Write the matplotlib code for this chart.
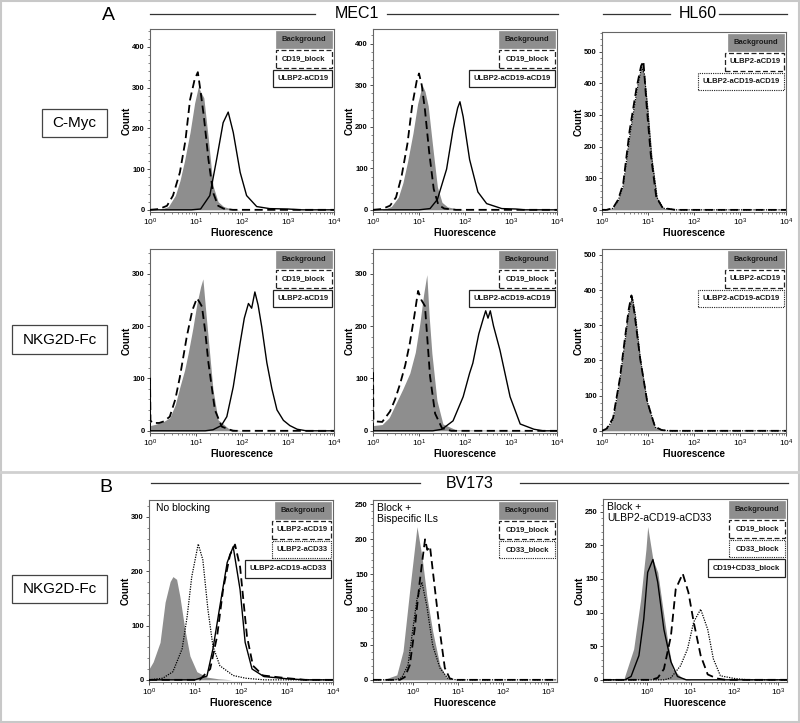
import numpy as np
import matplotlib
matplotlib.use("Agg")
import matplotlib.pyplot as plt
from matplotlib.patches import Rectangle
from matplotlib.lines import Line2D
from matplotlib.ticker import AutoMinorLocator, LogLocator, NullFormatter, FixedLocator

plt.rcParams["font.family"] = ["Liberation Sans", "DejaVu Sans"]
plt.rcParams["mathtext.fontset"] = "custom"
plt.rcParams["mathtext.rm"] = "Liberation Sans:bold"
plt.rcParams["mathtext.bf"] = "Liberation Sans:bold"
plt.rcParams["mathtext.default"] = "bf"

# ---------------------------------------------------------
# Histogram traces: x = log10(fluorescence), y = count
# ---------------------------------------------------------
# A, C-Myc, MEC1, ULBP2-aCD19
p1_bg_x = [0.2, 0.4, 0.55, 0.65, 0.75, 0.87, 0.97, 1.05, 1.1, 1.17, 1.27, 1.37, 1.48, 1.6, 1.75, 1.95]
p1_bg_y = [0, 8, 35, 71, 120, 190, 262, 302, 290, 275, 173, 59, 20, 8, 3, 0]
p1_dash_x = [0.2, 0.37, 0.5, 0.65, 0.77, 0.87, 0.97, 1.04, 1.1, 1.17, 1.27, 1.37, 1.48, 1.6, 1.8]
p1_dash_y = [2, 10, 35, 92, 170, 270, 320, 338, 290, 230, 124, 43, 10, 3, 0]
p1_solid_x = [0.9, 1.1, 1.3, 1.45, 1.59, 1.7, 1.81, 1.96, 2.1, 2.32, 2.6, 3.0, 3.3]
p1_solid_y = [0, 2, 35, 125, 214, 240, 190, 92, 35, 8, 3, 2, 0]

# A, C-Myc, MEC1, ULBP2-aCD19-aCD19
p2_bg_x = [0.2, 0.4, 0.55, 0.65, 0.75, 0.87, 0.97, 1.07, 1.13, 1.2, 1.3, 1.4, 1.5, 1.62, 1.8, 2.0]
p2_bg_y = [0, 8, 30, 65, 115, 185, 255, 300, 285, 250, 150, 55, 18, 7, 3, 0]
p2_dash_x = [0.2, 0.37, 0.5, 0.62, 0.75, 0.85, 0.95, 1.0, 1.06, 1.13, 1.22, 1.32, 1.42, 1.55, 1.8]
p2_dash_y = [2, 10, 30, 80, 160, 250, 310, 328, 300, 240, 140, 50, 12, 3, 0]
p2_solid_x = [1.0, 1.24, 1.4, 1.6, 1.74, 1.84, 1.89, 1.96, 2.1, 2.28, 2.47, 2.8, 3.1, 3.3]
p2_solid_y = [0, 3, 25, 98, 193, 245, 260, 224, 121, 43, 15, 3, 2, 0]

# A, C-Myc, HL60
p3_bg_x = [0.1, 0.24, 0.35, 0.46, 0.61, 0.76, 0.87, 0.93, 1.0, 1.09, 1.2, 1.33, 1.6]
p3_bg_y = [0, 5, 30, 78, 247, 381, 465, 412, 319, 162, 37, 5, 0]
p3_dash_x = [0.1, 0.24, 0.35, 0.46, 0.6, 0.75, 0.85, 0.9, 0.97, 1.06, 1.18, 1.32, 1.6]
p3_dash_y = [0, 6, 32, 82, 250, 385, 455, 470, 330, 175, 40, 6, 0]
p3_dot_x = [0.1, 0.24, 0.35, 0.46, 0.61, 0.76, 0.86, 0.92, 0.99, 1.08, 1.2, 1.33, 1.6]
p3_dot_y = [0, 5, 28, 76, 240, 378, 450, 430, 325, 165, 38, 5, 0]

# A, NKG2D-Fc, MEC1, ULBP2-aCD19
p4_bg_x = [0.0, 0.1, 0.3, 0.43, 0.55, 0.65, 0.75, 0.83, 0.93, 1.02, 1.1, 1.15, 1.2, 1.27, 1.37, 1.48, 1.7, 2.0]
p4_bg_y = [10, 12, 18, 25, 50, 84, 115, 148, 195, 243, 275, 290, 240, 173, 78, 21, 5, 0]
p4_dash_x = [0.0, 0.01, 0.05, 0.2, 0.3, 0.43, 0.55, 0.65, 0.8, 0.92, 1.02, 1.08, 1.13, 1.2, 1.27, 1.41, 1.56, 1.8]
p4_dash_y = [100, 20, 15, 15, 18, 27, 60, 103, 180, 230, 253, 245, 237, 190, 130, 40, 8, 0]
p4_solid_x = [1.2, 1.37, 1.55, 1.67, 1.81, 1.96, 2.05, 2.14, 2.21, 2.28, 2.35, 2.43, 2.54, 2.65, 2.76, 2.9, 3.04, 3.2, 3.4]
p4_solid_y = [0, 2, 10, 27, 84, 168, 215, 243, 234, 265, 240, 198, 130, 80, 40, 20, 10, 3, 0]

# A, NKG2D-Fc, MEC1, ULBP2-aCD19-aCD19
p5_bg_x = [0.0, 0.2, 0.35, 0.52, 0.65, 0.8, 0.92, 1.02, 1.1, 1.17, 1.22, 1.28, 1.39, 1.52, 1.8]
p5_bg_y = [10, 12, 25, 56, 80, 110, 150, 206, 260, 298, 220, 148, 58, 13, 2]
p5_dash_x = [0.0, 0.01, 0.05, 0.2, 0.37, 0.48, 0.59, 0.7, 0.8, 0.9, 0.98, 1.05, 1.13, 1.24, 1.35, 1.5, 1.7]
p5_dash_y = [115, 20, 18, 17, 37, 60, 90, 125, 167, 220, 267, 250, 238, 104, 33, 5, 0]
p5_solid_x = [1.3, 1.5, 1.74, 1.96, 2.1, 2.17, 2.3, 2.4, 2.45, 2.5, 2.55, 2.62, 2.76, 2.98, 3.2, 3.5, 3.7]
p5_solid_y = [0, 3, 19, 65, 110, 129, 185, 215, 229, 215, 229, 200, 154, 65, 13, 3, 0]

# A, NKG2D-Fc, HL60
p6_bg_x = [0.0, 0.1, 0.24, 0.39, 0.5, 0.58, 0.65, 0.72, 0.83, 0.98, 1.15, 1.3, 1.5]
p6_bg_y = [0, 5, 34, 147, 260, 340, 387, 330, 203, 82, 10, 2, 0]
p6_dash_x = [0.0, 0.1, 0.24, 0.39, 0.5, 0.58, 0.64, 0.7, 0.83, 0.98, 1.15, 1.3, 1.5]
p6_dash_y = [0, 6, 36, 150, 265, 345, 385, 340, 205, 85, 12, 2, 0]
p6_dot_x = [0.0, 0.1, 0.24, 0.39, 0.5, 0.58, 0.66, 0.73, 0.84, 0.99, 1.16, 1.3, 1.5]
p6_dot_y = [0, 5, 32, 145, 255, 335, 380, 325, 200, 80, 10, 2, 0]

# B, NKG2D-Fc, BV173, no blocking
p7_bg_x = [0.0, 0.09, 0.24, 0.35, 0.46, 0.52, 0.6, 0.67, 0.78, 0.89, 1.04, 1.26, 1.5, 1.8]
p7_bg_y = [20, 33, 69, 143, 181, 190, 185, 154, 93, 44, 15, 5, 2, 0]
p7_dot_x = [0.3, 0.52, 0.72, 0.83, 0.93, 1.07, 1.17, 1.28, 1.39, 1.54, 1.83, 2.1, 2.5]
p7_dot_y = [3, 15, 57, 117, 190, 250, 221, 130, 62, 26, 8, 3, 0]
p7_dash_x = [1.1, 1.33, 1.48, 1.61, 1.76, 1.87, 1.98, 2.13, 2.26, 2.48, 3.0, 3.4]
p7_dash_y = [0, 20, 80, 166, 230, 249, 208, 80, 26, 8, 3, 0]
p7_solid_x = [1.0, 1.26, 1.39, 1.54, 1.7, 1.83, 1.98, 2.09, 2.24, 2.5, 3.0, 3.4]
p7_solid_y = [0, 7, 57, 135, 216, 245, 166, 69, 20, 6, 2, 0]

# B, Block + Bispecific ILs
p8_bg_x = [-0.68, -0.37, -0.23, -0.08, 0.03, 0.08, 0.19, 0.3, 0.43, 0.59, 0.74, 0.9]
p8_bg_y = [0, 7, 41, 129, 190, 218, 176, 119, 69, 21, 3, 0]
p8_dash_x = [-0.3, -0.19, -0.08, 0.03, 0.14, 0.2, 0.26, 0.31, 0.37, 0.48, 0.59, 0.7, 0.81, 0.95]
p8_dash_y = [0, 4, 21, 73, 139, 170, 200, 185, 190, 129, 69, 17, 2, 0]
p8_dot_x = [-0.4, -0.26, -0.12, -0.01, 0.08, 0.19, 0.3, 0.43, 0.59, 0.77, 0.95]
p8_dot_y = [0, 3, 21, 73, 115, 139, 105, 49, 17, 2, 0]

# B, Block + ULBP2-aCD19-aCD33
p9_bg_x = [-0.7, -0.52, -0.3, -0.14, -0.02, 0.02, 0.14, 0.25, 0.36, 0.48, 0.59, 0.8, 1.0]
p9_bg_y = [0, 2, 46, 120, 194, 228, 179, 160, 109, 56, 16, 3, 0]
p9_solid_x = [-0.5, -0.36, -0.18, -0.07, 0.02, 0.14, 0.25, 0.39, 0.55, 0.7, 0.9]
p9_solid_y = [0, 5, 36, 90, 160, 179, 145, 75, 27, 5, 0]
p9_dash_x = [0.1, 0.25, 0.39, 0.55, 0.66, 0.82, 0.95, 1.07, 1.23, 1.39, 1.6, 1.8]
p9_dash_y = [0, 3, 16, 65, 135, 158, 130, 86, 36, 8, 2, 0]
p9_dot_x = [0.4, 0.55, 0.77, 0.93, 1.07, 1.23, 1.39, 1.52, 1.68, 2.0, 2.3]
p9_dot_y = [0, 3, 21, 46, 86, 105, 75, 31, 6, 2, 0]

row_labels = ["C-Myc", "NKG2D-Fc", "NKG2D-Fc"]

# ---------------------------------------------------------
# Drawing helpers
# ---------------------------------------------------------
W, H = 800, 723
GRAY = "#8e8e8e"
STYLES = {
    "dash": dict(color="black", lw=1.3, ls=(0, (4.5, 2.5))),
    "dot": dict(color="black", lw=0.9, ls=(0, (1, 1))),
    "solid": dict(color="black", lw=1.0, ls="-"),
}
BOX_STYLES = {
    "dash": dict(ec="#222222", lw=0.9, ls=(0, (4, 2))),
    "dot": dict(ec="#222222", lw=0.8, ls=(0, (1, 1))),
    "solid": dict(ec="#222222", lw=0.9, ls="-"),
    "fill": dict(ec=GRAY, lw=0.5, ls="-"),
}

fig = plt.figure(figsize=(W / 100, H / 100), dpi=100)


def fx(px):
    return px / W


def fy(py):
    return 1 - py / H


def make_panel(left, top, bottom, xlim, ymax, ystep, nminor, xticks, width=184):
    ax = fig.add_axes([fx(left), fy(bottom), width / W, (bottom - top) / H])
    ax.set_xscale("log")
    ax.set_xlim(10 ** xlim[0], 10 ** xlim[1])
    ax.set_ylim(-0.012 * ymax, ymax)
    ax.xaxis.set_major_locator(FixedLocator([10.0 ** k for k in xticks]))
    ax.xaxis.set_minor_locator(LogLocator(base=10, subs=np.arange(2, 10) * 1.0, numticks=20))
    ax.xaxis.set_minor_formatter(NullFormatter())
    ax.set_yticks(np.arange(0, ymax, ystep))
    ax.yaxis.set_minor_locator(AutoMinorLocator(nminor))
    ax.tick_params(axis="both", which="major", direction="out", length=2.2, width=0.6,
                   labelsize=5.5, pad=1.5, color="#333333")
    ax.tick_params(axis="x", which="major", labelsize=6)
    ax.tick_params(axis="both", which="minor", direction="out", length=1.2, width=0.5, color="#555555")
    for lab in ax.get_yticklabels():
        lab.set_fontweight("bold")
    for sp in ax.spines.values():
        sp.set_color("#666666")
        sp.set_linewidth(0.8)
    ax.set_xlabel("Fluorescence", fontsize=7, fontweight="bold", labelpad=0)
    ax.set_ylabel("Count", fontsize=7, fontweight="bold")
    ax.yaxis.set_label_coords(-0.1, 0.5)
    return ax


def draw_curve(ax, xs, ys, kind):
    lo, hi = np.log10(ax.get_xlim())
    x = np.concatenate([[lo], xs, [hi]])
    y = np.concatenate([[0], ys, [0]])
    if kind == "fill":
        ax.fill_between(10 ** x, y, color=GRAY, lw=0, zorder=1)
    else:
        ax.plot(10 ** x, y, zorder=3, **STYLES[kind])


def draw_legend(ax, entries, step=19.5, h=17.5):
    bb = ax.get_position()
    pw, ph = bb.width * W, bb.height * H
    for i, (label, kind) in enumerate(entries):
        w = max(56, 4.6 * len(label) + 8)
        x0 = 1 - (2 + w) / pw
        y0 = 1 - (1.5 + i * step + h) / ph
        ax.add_patch(Rectangle((x0, y0), w / pw, h / ph, transform=ax.transAxes,
                               fc=GRAY if kind == "fill" else "white", zorder=5,
                               clip_on=False, **BOX_STYLES[kind]))
        ax.text(x0 + w / pw / 2, y0 + h / ph / 2, label, transform=ax.transAxes,
                ha="center", va="center", fontsize=5.5, fontweight="bold",
                color="#1a1a1a", zorder=6)


# ---------------------------------------------------------
# Panels
# ---------------------------------------------------------
full = (0, 4)
ax1 = make_panel(150, 29, 212, full, 444, 100, 5, [0, 1, 2, 3, 4])
draw_curve(ax1, p1_bg_x, p1_bg_y, "fill")
draw_curve(ax1, p1_dash_x, p1_dash_y, "dash")
draw_curve(ax1, p1_solid_x, p1_solid_y, "solid")
draw_legend(ax1, [("Background", "fill"), ("CD19_block", "dash"), ("ULBP2-aCD19", "solid")])

ax2 = make_panel(373, 29, 212, full, 435, 100, 5, [0, 1, 2, 3, 4])
draw_curve(ax2, p2_bg_x, p2_bg_y, "fill")
draw_curve(ax2, p2_dash_x, p2_dash_y, "dash")
draw_curve(ax2, p2_solid_x, p2_solid_y, "solid")
draw_legend(ax2, [("Background", "fill"), ("CD19_block", "dash"), ("ULBP2-aCD19-aCD19", "solid")])

ax3 = make_panel(602, 32, 212, full, 562, 100, 5, [0, 1, 2, 3, 4])
draw_curve(ax3, p3_bg_x, p3_bg_y, "fill")
draw_curve(ax3, p3_dash_x, p3_dash_y, "dash")
draw_curve(ax3, p3_dot_x, p3_dot_y, "dot")
draw_legend(ax3, [("Background", "fill"), ("ULBP2-aCD19", "dash"), ("ULBP2-aCD19-aCD19", "dot")])

ax4 = make_panel(150, 249, 433, full, 347, 100, 5, [0, 1, 2, 3, 4])
draw_curve(ax4, p4_bg_x, p4_bg_y, "fill")
draw_curve(ax4, p4_dash_x, p4_dash_y, "dash")
draw_curve(ax4, p4_solid_x, p4_solid_y, "solid")
draw_legend(ax4, [("Background", "fill"), ("CD19_block", "dash"), ("ULBP2-aCD19", "solid")])

ax5 = make_panel(373, 249, 433, full, 347, 100, 5, [0, 1, 2, 3, 4])
draw_curve(ax5, p5_bg_x, p5_bg_y, "fill")
draw_curve(ax5, p5_dash_x, p5_dash_y, "dash")
draw_curve(ax5, p5_solid_x, p5_solid_y, "solid")
draw_legend(ax5, [("Background", "fill"), ("CD19_block", "dash"), ("ULBP2-aCD19-aCD19", "solid")])

ax6 = make_panel(602, 249, 433, full, 517, 100, 5, [0, 1, 2, 3, 4])
draw_curve(ax6, p6_bg_x, p6_bg_y, "fill")
draw_curve(ax6, p6_dash_x, p6_dash_y, "dash")
draw_curve(ax6, p6_dot_x, p6_dot_y, "dot")
draw_legend(ax6, [("Background", "fill"), ("ULBP2-aCD19", "dash"), ("ULBP2-aCD19-aCD19", "dot")])

ax7 = make_panel(149, 500, 682, full, 331, 100, 5, [0, 1, 2, 3, 4])
draw_curve(ax7, p7_bg_x, p7_bg_y, "fill")
draw_curve(ax7, p7_dot_x, p7_dot_y, "dot")
draw_curve(ax7, p7_dash_x, p7_dash_y, "dash")
draw_curve(ax7, p7_solid_x, p7_solid_y, "solid")
draw_legend(ax7, [("Background", "fill"), ("ULBP2-aCD19", "dash"), ("ULBP2-aCD33", "dot"),
                  ("ULBP2-aCD19-aCD33", "solid")])

ax8 = make_panel(373, 500, 682, (-0.9, 3.2), 256, 50, 5, [0, 1, 2, 3])
draw_curve(ax8, p8_bg_x, p8_bg_y, "fill")
draw_curve(ax8, p8_dot_x, p8_dot_y, "dot")
draw_curve(ax8, p8_dash_x, p8_dash_y, "dash")
draw_legend(ax8, [("Background", "fill"), ("CD19_block", "dash"), ("CD33_block", "dot")])

ax9 = make_panel(603, 499, 682, (-1.0, 3.2), 269, 50, 5, [0, 1, 2, 3])
draw_curve(ax9, p9_bg_x, p9_bg_y, "fill")
draw_curve(ax9, p9_solid_x, p9_solid_y, "solid")
draw_curve(ax9, p9_dash_x, p9_dash_y, "dash")
draw_curve(ax9, p9_dot_x, p9_dot_y, "dot")
draw_legend(ax9, [("Background", "fill"), ("CD19_block", "dash"), ("CD33_block", "dot"),
                  ("CD19+CD33_block", "solid")])

ax7.text(0.038, 0.985, "No blocking", transform=ax7.transAxes, ha="left", va="top", fontsize=7.5)
ax8.text(0.022, 0.985, "Block +\nBispecific ILs", transform=ax8.transAxes, ha="left", va="top",
         fontsize=7.5, linespacing=1.2)
ax9.text(0.022, 0.985, "Block +\nULBP2-aCD19-aCD33", transform=ax9.transAxes, ha="left", va="top",
         fontsize=7.5, linespacing=1.2)

# ---------------------------------------------------------
# Frame, headers and row labels
# ---------------------------------------------------------
fig.add_artist(Rectangle((fx(1), fy(722)), fx(798), 721 / H - 0.0, fill=False,
                         ec="#c8c8c8", lw=1.5, transform=fig.transFigure))
fig.add_artist(Line2D([0, 1], [fy(472), fy(472)], color="#d0d0d0", lw=2, transform=fig.transFigure))


def header_line(x0, x1, y):
    fig.add_artist(Line2D([fx(x0), fx(x1)], [fy(y), fy(y)], color="#333333", lw=0.9,
                          transform=fig.transFigure))


fig.text(fx(108), fy(15), "A", fontsize=14, ha="center", va="center")
header_line(150, 315, 14)
fig.text(fx(357), fy(14), "MEC1", fontsize=11.5, ha="center", va="center")
header_line(387, 558, 14)
header_line(603, 670, 14)
fig.text(fx(698), fy(14), "HL60", fontsize=11.5, ha="center", va="center")
header_line(719, 787, 14)

fig.text(fx(106), fy(487), "B", fontsize=14, ha="center", va="center")
header_line(151, 420, 483)
fig.text(fx(470), fy(483), "BV173", fontsize=11.5, ha="center", va="center")
header_line(520, 788, 483)

for label, (x0, y0, x1, y1) in zip(row_labels, [(42, 109, 107, 137), (12, 325, 107, 354), (12, 575, 107, 603)]):
    fig.add_artist(Rectangle((fx(x0), fy(y1)), (x1 - x0) / W, (y1 - y0) / H, fill=False,
                             ec="#444444", lw=0.9, transform=fig.transFigure))
    fig.text(fx((x0 + x1) / 2), fy((y0 + y1) / 2), label, fontsize=11, ha="center", va="center")

fig.savefig("out.png", dpi=100)
